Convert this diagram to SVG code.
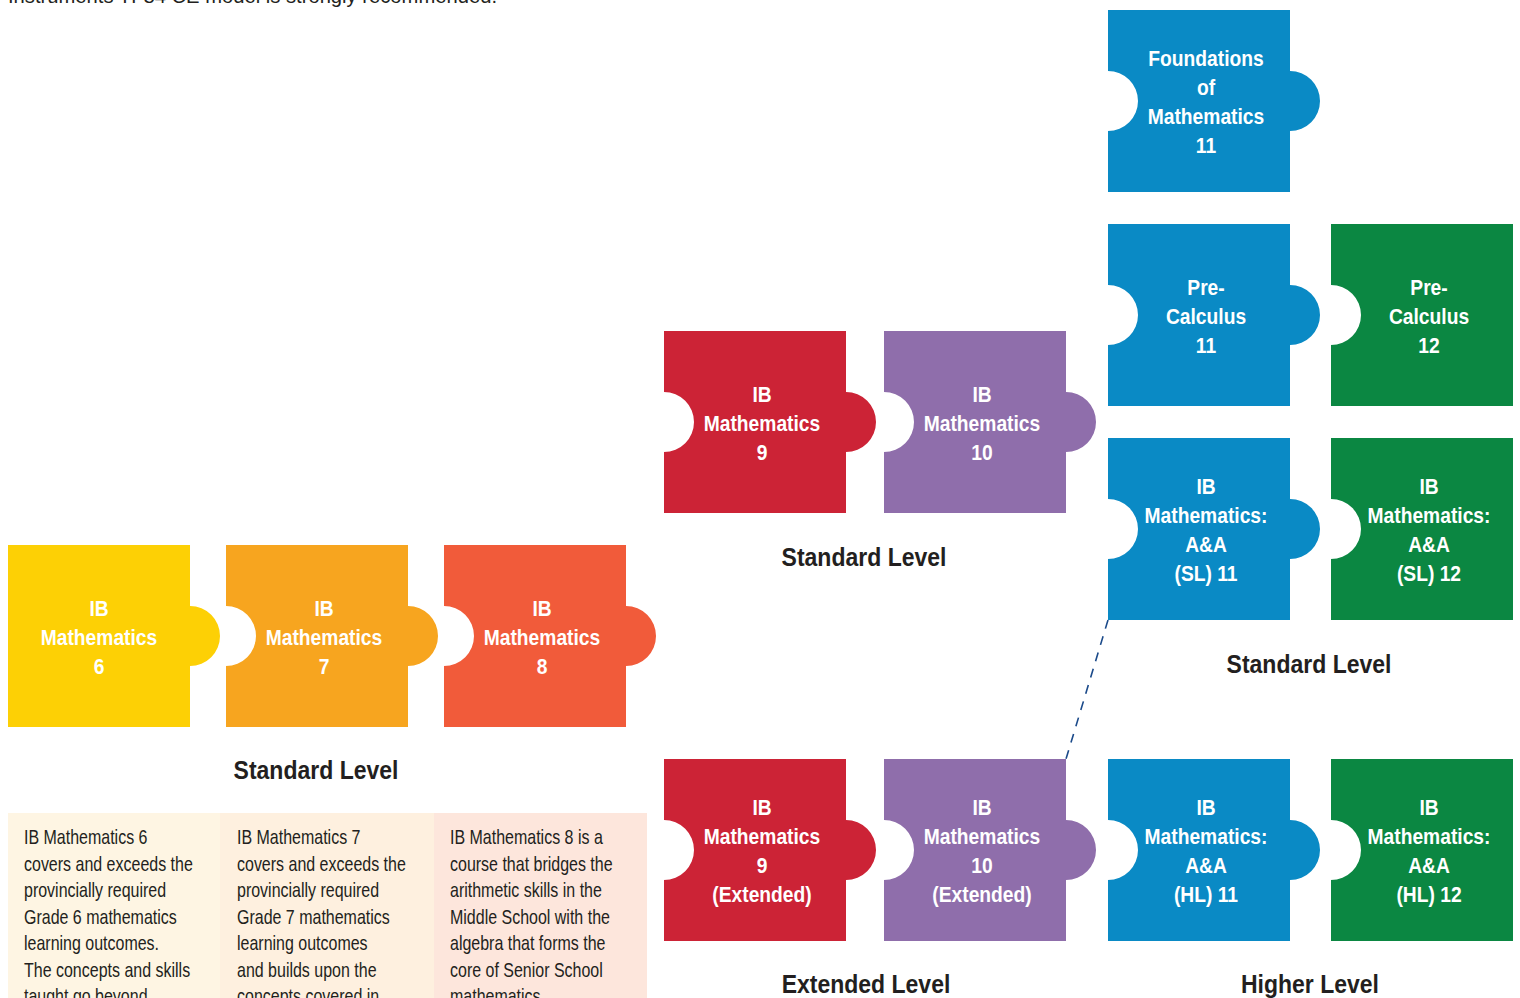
<svg xmlns="http://www.w3.org/2000/svg" width="1520" height="998" viewBox="0 0 1520 998">
<style>
.lbl{font-family:"Liberation Sans",Arial,sans-serif;font-weight:bold;font-size:22.5px;fill:#ffffff;text-anchor:middle}
.lvl{font-family:"Liberation Sans",Arial,sans-serif;font-weight:bold;font-size:25px;fill:#231f20;text-anchor:middle}
.body{font-family:"Liberation Sans",Arial,sans-serif;font-size:20.5px;fill:#231f20}
.top{font-family:"Liberation Sans",Arial,sans-serif;font-size:21px;fill:#231f20}
.yel{fill:#fdd005}.org{fill:#f7a51f}.ror{fill:#f15b3a}.red{fill:#cc2336}.pur{fill:#8f6eab}.blu{fill:#0a8ac5}.grn{fill:#0b8742}
.dash{stroke:#1b4a8a;stroke-width:1.6;stroke-dasharray:9 8;fill:none}
</style>
<defs>
<path id="pT" d="M0 0H182V61A30 30 0 0 1 182 121V182H0Z"/>
<path id="pNT" d="M0 0H182V61A30 30 0 0 1 182 121V182H0V121A30 30 0 0 0 0 61Z"/>
<path id="pN" d="M0 0H182V182H0V121A30 30 0 0 0 0 61Z"/>
</defs>
<rect width="1520" height="998" fill="#ffffff"/>
<text class="top" x="8" y="3" textLength="489" lengthAdjust="spacingAndGlyphs">Instruments TI-84 CE model is strongly recommended.</text>

<g id="connectors">
<line class="dash" x1="1108" y1="620" x2="1066" y2="759"/>
</g>

<g id="m6" transform="translate(8,545)"><use href="#pT" class="yel"/>
<g transform="translate(91 0) scale(.855 1)"><text class="lbl" x="0" y="71">IB</text><text class="lbl" x="0" y="100">Mathematics</text><text class="lbl" x="0" y="129">6</text></g></g>
<g id="m7" transform="translate(226,545)"><use href="#pNT" class="org"/>
<g transform="translate(98 0) scale(.855 1)"><text class="lbl" x="0" y="71">IB</text><text class="lbl" x="0" y="100">Mathematics</text><text class="lbl" x="0" y="129">7</text></g></g>
<g id="m8" transform="translate(444,545)"><use href="#pNT" class="ror"/>
<g transform="translate(98 0) scale(.855 1)"><text class="lbl" x="0" y="71">IB</text><text class="lbl" x="0" y="100">Mathematics</text><text class="lbl" x="0" y="129">8</text></g></g>
<g id="m9" transform="translate(664,331)"><use href="#pNT" class="red"/>
<g transform="translate(98 0) scale(.855 1)"><text class="lbl" x="0" y="71">IB</text><text class="lbl" x="0" y="100">Mathematics</text><text class="lbl" x="0" y="129">9</text></g></g>
<g id="m10" transform="translate(884,331)"><use href="#pNT" class="pur"/>
<g transform="translate(98 0) scale(.855 1)"><text class="lbl" x="0" y="71">IB</text><text class="lbl" x="0" y="100">Mathematics</text><text class="lbl" x="0" y="129">10</text></g></g>
<g id="f11" transform="translate(1108,10)"><use href="#pNT" class="blu"/>
<g transform="translate(98 0) scale(.855 1)"><text class="lbl" x="0" y="56">Foundations</text><text class="lbl" x="0" y="85">of</text><text class="lbl" x="0" y="114">Mathematics</text><text class="lbl" x="0" y="143">11</text></g></g>
<g id="pc11" transform="translate(1108,224)"><use href="#pNT" class="blu"/>
<g transform="translate(98 0) scale(.855 1)"><text class="lbl" x="0" y="71">Pre-</text><text class="lbl" x="0" y="100">Calculus</text><text class="lbl" x="0" y="129">11</text></g></g>
<g id="pc12" transform="translate(1331,224)"><use href="#pN" class="grn"/>
<g transform="translate(98 0) scale(.855 1)"><text class="lbl" x="0" y="71">Pre-</text><text class="lbl" x="0" y="100">Calculus</text><text class="lbl" x="0" y="129">12</text></g></g>
<g id="sl11" transform="translate(1108,438)"><use href="#pNT" class="blu"/>
<g transform="translate(98 0) scale(.855 1)"><text class="lbl" x="0" y="56">IB</text><text class="lbl" x="0" y="85">Mathematics:</text><text class="lbl" x="0" y="114">A&amp;A</text><text class="lbl" x="0" y="143">(SL) 11</text></g></g>
<g id="sl12" transform="translate(1331,438)"><use href="#pN" class="grn"/>
<g transform="translate(98 0) scale(.855 1)"><text class="lbl" x="0" y="56">IB</text><text class="lbl" x="0" y="85">Mathematics:</text><text class="lbl" x="0" y="114">A&amp;A</text><text class="lbl" x="0" y="143">(SL) 12</text></g></g>
<g id="m9e" transform="translate(664,759)"><use href="#pNT" class="red"/>
<g transform="translate(98 0) scale(.855 1)"><text class="lbl" x="0" y="56">IB</text><text class="lbl" x="0" y="85">Mathematics</text><text class="lbl" x="0" y="114">9</text><text class="lbl" x="0" y="143">(Extended)</text></g></g>
<g id="m10e" transform="translate(884,759)"><use href="#pNT" class="pur"/>
<g transform="translate(98 0) scale(.855 1)"><text class="lbl" x="0" y="56">IB</text><text class="lbl" x="0" y="85">Mathematics</text><text class="lbl" x="0" y="114">10</text><text class="lbl" x="0" y="143">(Extended)</text></g></g>
<g id="hl11" transform="translate(1108,759)"><use href="#pNT" class="blu"/>
<g transform="translate(98 0) scale(.855 1)"><text class="lbl" x="0" y="56">IB</text><text class="lbl" x="0" y="85">Mathematics:</text><text class="lbl" x="0" y="114">A&amp;A</text><text class="lbl" x="0" y="143">(HL) 11</text></g></g>
<g id="hl12" transform="translate(1331,759)"><use href="#pN" class="grn"/>
<g transform="translate(98 0) scale(.855 1)"><text class="lbl" x="0" y="56">IB</text><text class="lbl" x="0" y="85">Mathematics:</text><text class="lbl" x="0" y="114">A&amp;A</text><text class="lbl" x="0" y="143">(HL) 12</text></g></g>

<g id="levels">
<text class="lvl" transform="translate(316 779) scale(.92 1)">Standard Level</text>
<text class="lvl" transform="translate(864 566) scale(.92 1)">Standard Level</text>
<text class="lvl" transform="translate(1309 673) scale(.92 1)">Standard Level</text>
<text class="lvl" transform="translate(866 993) scale(.92 1)">Extended Level</text>
<text class="lvl" transform="translate(1310 993) scale(.92 1)">Higher Level</text>
</g>

<g id="descriptions">
<rect x="8" y="813" width="212" height="185" fill="#fef5e3"/>
<rect x="220" y="813" width="214" height="185" fill="#fef0df"/>
<rect x="434" y="813" width="213" height="185" fill="#fde6dc"/>
<g transform="translate(24 0) scale(.78 1)">
<text class="body" x="0" y="844">IB Mathematics 6</text>
<text class="body" x="0" y="871">covers and exceeds the</text>
<text class="body" x="0" y="897">provincially required</text>
<text class="body" x="0" y="924">Grade 6 mathematics</text>
<text class="body" x="0" y="950">learning outcomes.</text>
<text class="body" x="0" y="977">The concepts and skills</text>
<text class="body" x="0" y="1003">taught go beyond</text>
</g>
<g transform="translate(237 0) scale(.78 1)">
<text class="body" x="0" y="844">IB Mathematics 7</text>
<text class="body" x="0" y="871">covers and exceeds the</text>
<text class="body" x="0" y="897">provincially required</text>
<text class="body" x="0" y="924">Grade 7 mathematics</text>
<text class="body" x="0" y="950">learning outcomes</text>
<text class="body" x="0" y="977">and builds upon the</text>
<text class="body" x="0" y="1003">concepts covered in</text>
</g>
<g transform="translate(450 0) scale(.78 1)">
<text class="body" x="0" y="844">IB Mathematics 8 is a</text>
<text class="body" x="0" y="871">course that bridges the</text>
<text class="body" x="0" y="897">arithmetic skills in the</text>
<text class="body" x="0" y="924">Middle School with the</text>
<text class="body" x="0" y="950">algebra that forms the</text>
<text class="body" x="0" y="977">core of Senior School</text>
<text class="body" x="0" y="1003">mathematics.</text>
</g>
</g>
</svg>
